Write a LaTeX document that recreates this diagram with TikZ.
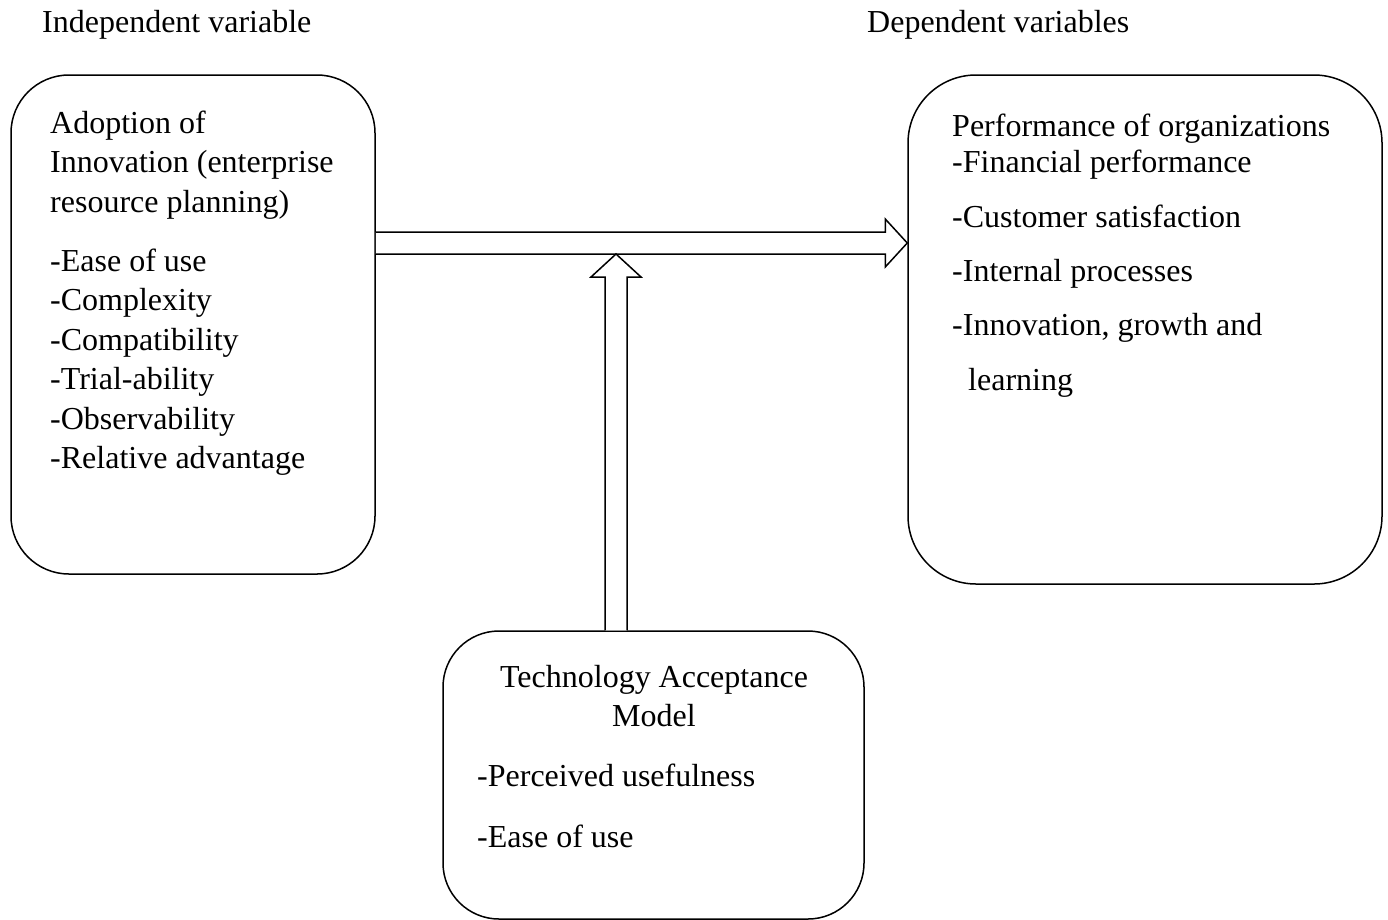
\documentclass[tikz,border=0pt]{standalone}
\usepackage{fontspec}
\setmainfont{Liberation Serif}
\usetikzlibrary{calc}
\tikzset{
  box/.style={draw, line width=1.5pt, inner sep=0pt},
  txt/.style={anchor=base west, inner sep=0pt, font=\fontsize{32}{38}\selectfont},
  ctxt/.style={anchor=base, inner sep=0pt, font=\fontsize{32}{38}\selectfont},
  blockarrow/.style={draw, line width=1.5pt, fill=white, line join=miter}
}
\begin{document}
\begin{tikzpicture}[x=1pt,y=-1pt]
\useasboundingbox (0,0) rectangle (1388,919);
% boxes
\node[box, rounded corners=58pt, minimum width=364pt, minimum height=499pt] (L) at (193,324.5) {};
\node[box, rounded corners=68pt, minimum width=474pt, minimum height=509pt] (R) at (1145,329.5) {};
\node[box, rounded corners=56pt, minimum width=421pt, minimum height=288pt] (B) at (653.5,775) {};
% headers
\node[txt] (hi) at (42,32) {Independent variable};
\node[txt] (hd) at (867,32) {Dependent variables};
% left texts
\node[txt] (l1) at (50,133) {Adoption of};
\node[txt] (l2) at (50,172.5) {Innovation (enterprise};
\node[txt] (l3) at (50,212) {resource planning)};
\node[txt] (l4) at (50,271) {-Ease of use};
\node[txt] (l5) at (50,310.5) {-Complexity};
\node[txt] (l6) at (50,350) {-Compatibility};
\node[txt] (l7) at (50,389.5) {-Trial-ability};
\node[txt] (l8) at (50,429) {-Observability};
\node[txt] (l9) at (50,468.5) {-Relative advantage};
% right texts
\node[txt] (r1) at (952,136) {Performance of organizations};
\node[txt] (r2) at (952,172) {-Financial performance};
\node[txt] (r3) at (952,227) {-Customer satisfaction};
\node[txt] (r4) at (952,281) {-Internal processes};
\node[txt] (r5) at (952,335) {-Innovation, growth and};
\node[txt] (r6) at (968,390) {learning};
% bottom texts
\node[ctxt] (b1) at (654,687) {Technology Acceptance};
\node[ctxt] (b2) at (654,726) {Model};
\node[txt] (b3) at (477,786) {-Perceived usefulness};
\node[txt] (b4) at (477,847) {-Ease of use};
% horizontal block arrow
\coordinate (hs) at (L.east |- 0,243);
\coordinate (ht) at (R.west |- 0,243);
\draw[blockarrow] ($(hs)+(0,-11)$) -- ($(ht)+(-22,-11)$) -- ($(ht)+(-22,-24)$) -- (ht)
  -- ($(ht)+(-22,24)$) -- ($(ht)+(-22,11)$) -- ($(hs)+(0,11)$);
% vertical block arrow
\coordinate (vs) at (B.north -| 616,0);
\coordinate (vt) at (616,254);
\draw[blockarrow] ($(vs)+(-11,0)$) -- ($(vt)+(-11,23)$) -- ($(vt)+(-25,23)$) -- (vt)
  -- ($(vt)+(25,23)$) -- ($(vt)+(11,23)$) -- ($(vs)+(11,0)$);
\end{tikzpicture}
\end{document}
